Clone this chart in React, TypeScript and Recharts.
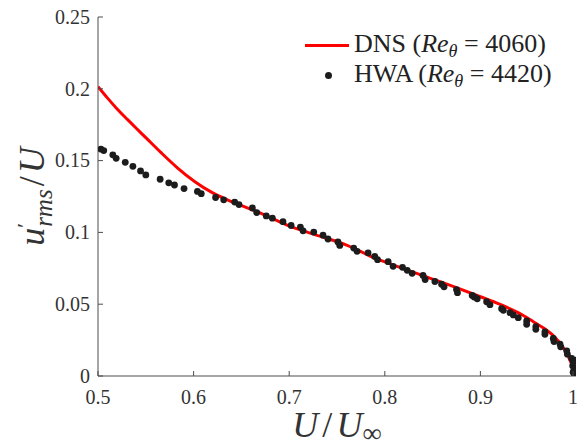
import React from 'react';
import {
  ComposedChart,
  Line,
  Scatter,
  XAxis,
  YAxis,
} from 'recharts';

// DNS profile, Re_theta = 4060
const dnsX = [0.5, 0.51, 0.52, 0.531, 0.54, 0.55, 0.566, 0.583, 0.601, 0.62, 0.636, 0.664, 0.68, 0.7, 0.73, 0.76, 0.79, 0.8, 0.85, 0.875, 0.9, 0.92, 0.944, 0.955, 0.969, 0.978, 0.986, 0.991, 0.995, 0.998, 1.0];
const dnsY = [0.2015, 0.1935, 0.186, 0.1785, 0.1725, 0.166, 0.1555, 0.145, 0.1355, 0.1275, 0.1225, 0.1151, 0.1105, 0.1045, 0.0978, 0.0912, 0.082, 0.0795, 0.0675, 0.0615, 0.0552, 0.05, 0.0425, 0.038, 0.032, 0.027, 0.0204, 0.015, 0.009, 0.005, 0.001];

// HWA measurements, Re_theta = 4420
const hwaX = [0.503, 0.506, 0.5155, 0.519, 0.5285, 0.5365, 0.5445, 0.55, 0.565, 0.574, 0.58, 0.59, 0.604, 0.608, 0.623, 0.6315, 0.643, 0.6475, 0.6615, 0.666, 0.676, 0.6824, 0.6935, 0.702, 0.7117, 0.7145, 0.7257, 0.7354, 0.7406, 0.751, 0.7529, 0.7675, 0.771, 0.7825, 0.7895, 0.7924, 0.8035, 0.8087, 0.8185, 0.8234, 0.8286, 0.84, 0.8422, 0.8524, 0.8594, 0.862, 0.875, 0.876, 0.8914, 0.8935, 0.8967, 0.9065, 0.91, 0.9222, 0.924, 0.931, 0.9344, 0.9396, 0.9484, 0.9484, 0.958, 0.958, 0.9675, 0.9675, 0.9762, 0.977, 0.9833, 0.984, 0.9903, 0.991, 0.9955, 0.9972, 0.9965, 0.998, 0.997, 0.9985, 1.0, 1.0];
const hwaY = [0.158, 0.157, 0.154, 0.1516, 0.1488, 0.146, 0.1428, 0.14, 0.137, 0.1345, 0.133, 0.1305, 0.1285, 0.127, 0.1243, 0.1227, 0.1211, 0.1194, 0.117, 0.1138, 0.1115, 0.1099, 0.1075, 0.1048, 0.1037, 0.1011, 0.1002, 0.0981, 0.0954, 0.0933, 0.0909, 0.0891, 0.0868, 0.0857, 0.0833, 0.081, 0.0796, 0.0764, 0.0757, 0.0736, 0.0715, 0.07, 0.0672, 0.0658, 0.0639, 0.0621, 0.0602, 0.058, 0.0561, 0.055, 0.0538, 0.0517, 0.0497, 0.0469, 0.0457, 0.0441, 0.0425, 0.0406, 0.0383, 0.036, 0.0344, 0.0325, 0.0307, 0.029, 0.0261, 0.024, 0.0222, 0.0203, 0.0175, 0.0152, 0.0122, 0.0099, 0.0071, 0.0048, 0.0026, 0.001, 0.011, 0.005];

const xTicks = [0.5, 0.6, 0.7, 0.8, 0.9, 1];
const yTicks = [0, 0.05, 0.1, 0.15, 0.2, 0.25];

const dnsData = dnsX.map((x, i) => ({ x, y: dnsY[i] }));
const hwaData = hwaX.map((x, i) => ({ x, y: hwaY[i] }));

const SERIF = 'Liberation Serif, DejaVu Serif, serif';
const AXIS = '#4d4d4d';
const TEXT = '#333';
const TICK_LEN = 5;

const BottomTick = ({ x, y, payload }: any) => (
  <g>
    <line x1={x} x2={x} y1={y} y2={y - TICK_LEN} stroke={AXIS} />
    <text x={x} y={y + 28} textAnchor="middle" style={{ fontFamily: SERIF }} fontSize={20} fill={TEXT}>
      {payload.value}
    </text>
  </g>
);

const TopTick = ({ x, y }: any) => (
  <line x1={x} x2={x} y1={y} y2={y + TICK_LEN} stroke={AXIS} />
);

const LeftTick = ({ x, y, payload }: any) => (
  <g>
    <line x1={x} x2={x + TICK_LEN} y1={y} y2={y} stroke={AXIS} />
    <text x={x - 8} y={y} dy="0.34em" textAnchor="end" style={{ fontFamily: SERIF }} fontSize={20} fill={TEXT}>
      {payload.value}
    </text>
  </g>
);

const RightTick = ({ x, y }: any) => (
  <line x1={x} x2={x - TICK_LEN} y1={y} y2={y} stroke={AXIS} />
);

const YTitle = ({ viewBox }: any) => {
  const cx = viewBox.x + 44;
  const cy = viewBox.y + viewBox.height / 2;
  return (
    <text
      x={cx}
      y={cy}
      transform={`rotate(-90 ${cx} ${cy})`}
      textAnchor="middle"
      style={{ fontFamily: SERIF }}
      fontSize={36}
      fill={TEXT}
    >
      <tspan fontStyle="italic">u</tspan>
      <tspan dy={-12} fontSize={22}>′</tspan>
      <tspan dy={20} dx={-4} fontSize={25} fontStyle="italic">rms</tspan>
      <tspan dy={-8} dx={3}>/</tspan>
      <tspan dx={3} fontStyle="italic">U</tspan>
    </text>
  );
};

const XTitle = ({ viewBox }: any) => {
  const cx = viewBox.x + viewBox.width / 2;
  return (
    <text x={cx} y={viewBox.y + 61} textAnchor="middle" style={{ fontFamily: SERIF }} fontSize={36} fill={TEXT}>
      <tspan fontStyle="italic">U</tspan>
      <tspan dx={4}>/</tspan>
      <tspan dx={4} fontStyle="italic">U</tspan>
      <tspan dy={5} fontSize={27}>∞</tspan>
    </text>
  );
};

const Dot = (props: any) => <circle cx={props.cx} cy={props.cy} r={3.4} fill="#1c1c1c" />;

const sub: React.CSSProperties = { fontSize: '0.7em', position: 'relative', top: '0.3em', fontStyle: 'italic' };

const LegendBox = () => (
  <div
    style={{
      position: 'absolute',
      left: 300,
      top: 30,
      fontFamily: SERIF,
      fontSize: 26,
      lineHeight: '30px',
      color: '#222',
      whiteSpace: 'nowrap',
    }}
  >
    <div style={{ display: 'flex', alignItems: 'center', height: 30 }}>
      <div style={{ width: 54, position: 'relative', height: 30 }}>
        <div style={{ position: 'absolute', left: 5, top: 14, width: 44, height: 3, background: '#ff0000' }} />
      </div>
      <span>
        DNS (<i>Re</i><span style={sub}>θ</span> = 4060)
      </span>
    </div>
    <div style={{ display: 'flex', alignItems: 'center', height: 30 }}>
      <div style={{ width: 54, position: 'relative', height: 30 }}>
        <div style={{ position: 'absolute', left: 25, top: 12, width: 7, height: 7, borderRadius: '50%', background: '#1c1c1c' }} />
      </div>
      <span>
        HWA (<i>Re</i><span style={sub}>θ</span> = 4420)
      </span>
    </div>
  </div>
);

export default function App() {
  return (
    <div style={{ position: 'absolute', left: 0, top: 0, width: 577, height: 447, background: '#fff' }}>
      <ComposedChart width={577} height={447} margin={{ top: 17, right: 1, bottom: 1, left: 0 }}>
        <XAxis
          dataKey="x"
          type="number"
          domain={[0.5, 1]}
          ticks={xTicks}
          allowDataOverflow
          height={70}
          tickSize={0}
          tickMargin={0}
          tick={<BottomTick />}
          axisLine={{ stroke: AXIS }}
          label={<XTitle />}
        />
        <XAxis
          xAxisId="top"
          orientation="top"
          type="number"
          domain={[0.5, 1]}
          ticks={xTicks}
          height={0}
          tickSize={0}
          tickMargin={0}
          tick={<TopTick />}
          axisLine={{ stroke: AXIS }}
        />
        <YAxis
          dataKey="y"
          type="number"
          domain={[0, 0.25]}
          ticks={yTicks}
          allowDataOverflow
          width={98}
          tickSize={0}
          tickMargin={0}
          tick={<LeftTick />}
          axisLine={{ stroke: AXIS }}
          label={<YTitle />}
        />
        <YAxis
          yAxisId="right"
          orientation="right"
          type="number"
          domain={[0, 0.25]}
          ticks={yTicks}
          width={0}
          tickSize={0}
          tickMargin={0}
          tick={<RightTick />}
          axisLine={{ stroke: AXIS }}
        />
        <Line
          data={dnsData}
          dataKey="y"
          type="monotone"
          stroke="#ff0000"
          strokeWidth={3}
          dot={false}
          isAnimationActive={false}
        />
        <Scatter data={hwaData} dataKey="y" shape={<Dot />} isAnimationActive={false} />
      </ComposedChart>
      <LegendBox />
    </div>
  );
}
